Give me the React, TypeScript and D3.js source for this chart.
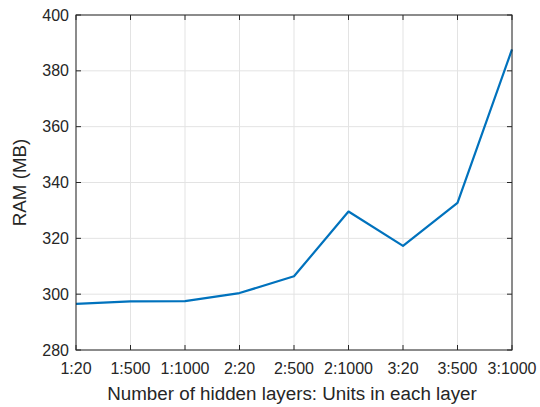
import React, { useEffect, useRef } from "react";
import * as d3 from "d3";

const categories = ["1:20", "1:500", "1:1000", "2:20", "2:500", "2:1000", "3:20", "3:500", "3:1000"];
const ramValues = [296.5, 297.4, 297.5, 300.4, 306.4, 329.6, 317.3, 332.7, 387.7];
const yTicks = [280, 300, 320, 340, 360, 380, 400];

const App = () => {
  const svgRef = useRef<SVGSVGElement>(null);

  useEffect(() => {
    const svg = d3.select(svgRef.current);
    svg.selectAll("*").remove();

    const width = 540;
    const height = 407;
    const left = 76;
    const right = 512;
    const top = 15;
    const bottom = 350;
    const axisColor = "#262626";
    const font = "'Liberation Sans', Arial, Helvetica, sans-serif";

    svg.attr("width", width).attr("height", height);

    const x = d3
      .scalePoint<string>()
      .domain(categories)
      .range([left, right]);
    const y = d3.scaleLinear().domain([280, 400]).range([bottom, top]);

    const g = svg.append("g");

    // grid
    g.selectAll(".vgrid")
      .data(categories)
      .enter()
      .append("line")
      .attr("x1", (d) => x(d)!)
      .attr("x2", (d) => x(d)!)
      .attr("y1", top)
      .attr("y2", bottom)
      .attr("stroke", "#e3e3e3")
      .attr("stroke-width", 1);
    g.selectAll(".hgrid")
      .data(yTicks)
      .enter()
      .append("line")
      .attr("x1", left)
      .attr("x2", right)
      .attr("y1", (d) => y(d))
      .attr("y2", (d) => y(d))
      .attr("stroke", "#e3e3e3")
      .attr("stroke-width", 1);

    // line
    const line = d3
      .line<number>()
      .x((_, i) => x(categories[i])!)
      .y((d) => y(d));
    g.append("path")
      .datum(ramValues)
      .attr("d", line)
      .attr("fill", "none")
      .attr("stroke", "#0072BD")
      .attr("stroke-width", 2.2)
      .attr("stroke-linejoin", "round");

    // box
    g.append("rect")
      .attr("x", left)
      .attr("y", top)
      .attr("width", right - left)
      .attr("height", bottom - top)
      .attr("fill", "none")
      .attr("stroke", axisColor)
      .attr("stroke-width", 1);

    // ticks (inward, both sides)
    const tl = 5;
    categories.forEach((c) => {
      const px = x(c)!;
      g.append("line").attr("x1", px).attr("x2", px).attr("y1", bottom).attr("y2", bottom - tl).attr("stroke", axisColor);
      g.append("line").attr("x1", px).attr("x2", px).attr("y1", top).attr("y2", top + tl).attr("stroke", axisColor);
    });
    yTicks.forEach((t) => {
      const py = y(t);
      g.append("line").attr("x1", left).attr("x2", left + tl).attr("y1", py).attr("y2", py).attr("stroke", axisColor);
      g.append("line").attr("x1", right).attr("x2", right - tl).attr("y1", py).attr("y2", py).attr("stroke", axisColor);
    });

    // tick labels
    g.selectAll(".xlab")
      .data(categories)
      .enter()
      .append("text")
      .attr("x", (d) => x(d)!)
      .attr("y", bottom + 24)
      .attr("text-anchor", "middle")
      .attr("font-family", font)
      .attr("font-size", 16)
      .attr("fill", axisColor)
      .text((d) => d);
    g.selectAll(".ylab")
      .data(yTicks)
      .enter()
      .append("text")
      .attr("x", left - 7)
      .attr("y", (d) => y(d))
      .attr("dy", "0.35em")
      .attr("text-anchor", "end")
      .attr("font-family", font)
      .attr("font-size", 16)
      .attr("fill", axisColor)
      .text((d) => d);

    // axis titles
    g.append("text")
      .attr("x", (left + right) / 2 - 2)
      .attr("y", 400)
      .attr("text-anchor", "middle")
      .attr("font-family", font)
      .attr("font-size", 18.8)
      .attr("fill", axisColor)
      .text("Number of hidden layers: Units in each layer");
    g.append("text")
      .attr("transform", `translate(26,${(top + bottom) / 2}) rotate(-90)`)
      .attr("text-anchor", "middle")
      .attr("font-family", font)
      .attr("font-size", 18.8)
      .attr("fill", axisColor)
      .text("RAM (MB)");
  }, []);

  return (
    <svg ref={svgRef} style={{ position: "absolute", left: 0, top: 0, display: "block" }}></svg>
  );
};

export default App;
